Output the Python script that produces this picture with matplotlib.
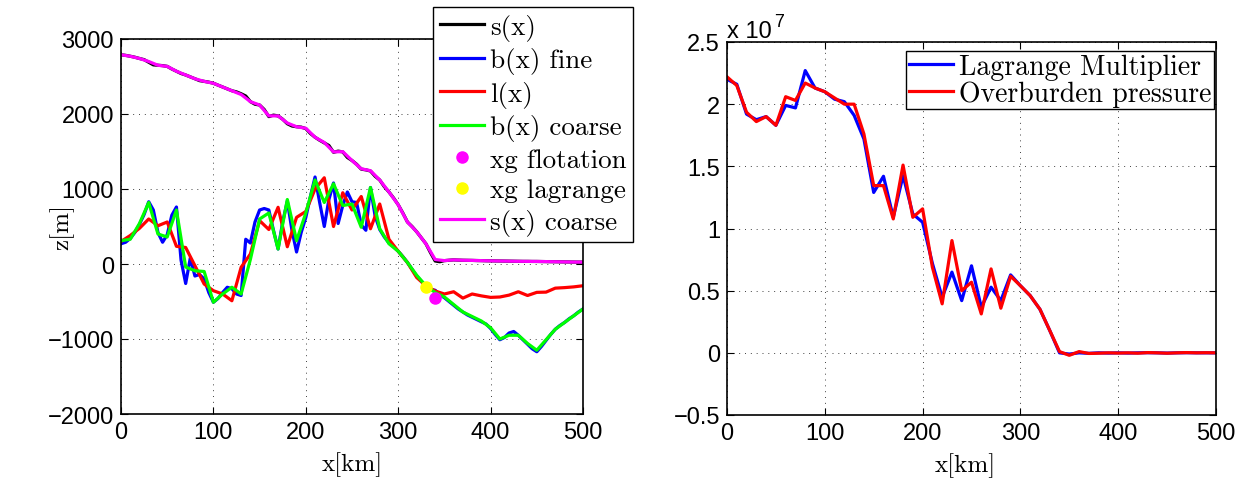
import numpy as np
import matplotlib
matplotlib.use("Agg")
import matplotlib.pyplot as plt

plt.rcParams['font.family'] = ['Liberation Sans', 'DejaVu Sans']
plt.rcParams['axes.unicode_minus'] = True

# ---------------- data: left panel (km, m) ----------------
x_fine = np.arange(0, 501, 5)
x_coarse = np.arange(0, 501, 10)

s_fine = [2790, 2782, 2770, 2757, 2740, 2725, 2690, 2655, 2650, 2645,
          2635, 2600, 2570, 2540, 2520, 2495, 2470, 2445, 2435, 2425,
          2410, 2385, 2360, 2335, 2310, 2295, 2270, 2240, 2165, 2130,
          2120, 2060, 1965, 1985, 1975, 1930, 1870, 1840, 1830, 1825,
          1805, 1740, 1690, 1650, 1615, 1580, 1490, 1505, 1495, 1420,
          1380, 1330, 1265, 1255, 1240, 1170, 1120, 1030, 960, 880,
          790, 680, 560, 500, 430, 350, 270, 150, 40, 30,
          45, 50, 55, 52, 50, 49, 48, 46, 45, 43,
          42, 41, 40, 39, 38, 37, 36, 35, 35, 34,
          34, 33, 32, 31, 30, 29, 28, 27, 26, 25, 25]

b_fine = [270, 290, 340, 420, 530, 660, 830, 720, 420, 290,
          390, 650, 760, 50, -260, 80, -160, -140, -200, -380,
          -510, -460, -380, -310, -330, -400, -420, 330, 280, 560,
          720, 740, 720, 450, 200, 560, 840, 450, 160, 420,
          620, 900, 1160, 820, 500, 860, 1080, 540, 780, 960,
          830, 820, 520, 450, 1020, 640, 460, 360, 280, 230,
          170, 100, 20, -70, -160, -230, -300, -340, -350, -410,
          -450, -500, -550, -600, -640, -680, -710, -740, -770, -800,
          -860, -940, -1010, -980, -920, -900, -950, -1010, -1070, -1130,
          -1170, -1100, -1020, -940, -870, -820, -780, -730, -690, -640, -600]

l_coarse = [300, 380, 476, 600, 510, 560, 236, 220, -22, -267,
            -356, -400, -490, -44, 133, 578, 460, 756, 230, 622,
            700, 1000, 1150, 500, 950, 720, 900, 470, 800, 330,
            170, 20, -180, -290, -360, -400, -370, -455, -400, -425,
            -445, -440, -415, -370, -420, -378, -375, -322, -315, -305,
            -290]

b_coarse = [311, 330, 540, 820, 400, 360, 720, -40, -90, -100,
            -510, -400, -310, -400, 60, 600, 680, 200, 860, 310,
            680, 1120, 820, 1070, 780, 800, 490, 1020, 470, 270,
            170, 20, -150, -290, -380, -440, -540, -640, -700, -760,
            -850, -1000, -950, -950, -1060, -1150, -1010, -870, -780, -690,
            -600]

s_coarse = [2790, 2770, 2740, 2700, 2650, 2635, 2570, 2520, 2470, 2435,
            2410, 2360, 2310, 2260, 2165, 2120, 1975, 1975, 1880, 1830,
            1810, 1690, 1620, 1495, 1498, 1380, 1270, 1244, 1120, 960,
            790, 560, 430, 270, 60, 45, 55, 50, 48, 45,
            42, 40, 38, 36, 35, 34, 32, 30, 28, 26, 25]

xg_flotation = (340, -455)
xg_lagrange = (330, -300)

# ---------------- data: right panel (x 1e7) ----------------
x_p = np.arange(0, 501, 10)
lagrange = [2.20, 2.16, 1.92, 1.875, 1.90, 1.83, 1.99, 1.97, 2.27, 2.13,
            2.10, 2.04, 2.02, 1.91, 1.72, 1.29, 1.42, 1.09, 1.425, 1.117,
            1.05, 0.72, 0.447, 0.649, 0.42, 0.70, 0.367, 0.528, 0.42, 0.627,
            0.54, 0.46, 0.35, 0.18, 0.0, -0.01, 0.0, -0.004, 0.0, -0.002,
            0.0, -0.002, 0.0, 0.001, 0.0, -0.002, 0.0, 0.001, 0.0, 0.0, 0.0]
overburden = [2.22, 2.15, 1.935, 1.86, 1.90, 1.83, 2.06, 2.03, 2.17, 2.13,
              2.10, 2.05, 2.00, 2.00, 1.76, 1.345, 1.345, 1.077, 1.51, 1.09,
              1.158, 0.689, 0.394, 0.903, 0.50, 0.568, 0.313, 0.675, 0.359, 0.616,
              0.54, 0.46, 0.35, 0.18, 0.01, -0.02, 0.01, -0.005, -0.003, 0.0,
              -0.002, 0.0, -0.003, 0.002, 0.0, -0.003, 0.0, 0.002, 0.0, 0.001, 0.0]
SCALE = 1e7

W, H = 1252, 481
fig = plt.figure(figsize=(W / 100, H / 100), dpi=100)
ax1 = fig.add_axes([121 / W, 66 / H, 462 / W, 375 / H])
ax2 = fig.add_axes([727 / W, 65 / H, 489 / W, 373 / H])

lw = 2.3
serif = 'cmr10'
grid_kw = dict(linestyle=(0, (1, 5)), color='k', linewidth=0.7, alpha=0.75)

ax1.plot(x_fine, s_fine, color='k', lw=lw, label='s(x)')
ax1.plot(x_fine, b_fine, color='#0000FF', lw=lw, label='b(x) fine')
ax1.plot(x_coarse, l_coarse, color='#FF0000', lw=lw, label='l(x)')
ax1.plot(x_coarse, b_coarse, color='#00FF00', lw=lw, label='b(x) coarse')
ax1.plot([xg_flotation[0]], [xg_flotation[1]], 'o', color='#FF00FF',
         markersize=8, linestyle='none', label='xg flotation')
ax1.plot([xg_lagrange[0]], [xg_lagrange[1]], 'o', color='#FFFF00',
         markersize=8, linestyle='none', label='xg lagrange')
ax1.plot(x_coarse, s_coarse, color='#FF00FF', lw=lw, label='s(x) coarse')

ax1.set_xlim(0, 500)
ax1.set_ylim(-2000, 3000)
ax1.set_xticks(np.arange(0, 501, 100))
ax1.set_yticks(np.arange(-2000, 3001, 1000))
ax1.set_xlabel('x[km]', fontfamily=serif, fontsize=18)
ax1.set_ylabel('z[m]', fontfamily=serif, fontsize=18)
ax1.xaxis.set_label_coords(0.5, -50 / 375)
ax1.xaxis.label.set_va('center')
ax1.yaxis.set_label_coords(-59 / 462, 0.5)
ax1.yaxis.label.set_va('center')

leg = ax1.legend(loc='upper left', bbox_to_anchor=(433 / W, 1 - 8 / H),
                 bbox_transform=fig.transFigure, borderaxespad=0,
                 prop={'family': serif, 'size': 19.5}, fancybox=False,
                 edgecolor='k', framealpha=1, handlelength=1.65,
                 handletextpad=0.2, labelspacing=0.24, borderpad=0.25)
leg.get_frame().set_linewidth(1.0)
leg.set_zorder(10)

ax2.plot(x_p, np.array(lagrange) * SCALE, color='#0000FF', lw=lw,
         label='Lagrange Multiplier')
ax2.plot(x_p, np.array(overburden) * SCALE, color='#FF0000', lw=lw,
         label='Overburden pressure')
ax2.set_xlim(0, 500)
ax2.set_ylim(-0.5 * SCALE, 2.5 * SCALE)
ax2.set_xticks(np.arange(0, 501, 100))
ax2.set_yticks(np.arange(-0.5, 2.51, 0.5) * SCALE)
ax2.yaxis.set_major_formatter(
    matplotlib.ticker.FuncFormatter(lambda v, p: ('%g' % (v / SCALE)).replace('-', '\u2212')))
ax2.set_xlabel('x[km]', fontfamily=serif, fontsize=18)
ax2.xaxis.set_label_coords(0.487, -50 / 373)
ax2.xaxis.label.set_va('center')
leg2 = ax2.legend(loc='upper right', bbox_to_anchor=(1214 / W, 1 - 52 / H),
                  bbox_transform=fig.transFigure, borderaxespad=0,
                  prop={'family': serif, 'size': 20}, fancybox=False,
                  edgecolor='k', framealpha=1, handlelength=1.6,
                  handletextpad=0.2, labelspacing=0.0, borderpad=0.1)
leg2.get_frame().set_linewidth(1.0)

fig.text(727 / W, 1 - 38 / H, 'x 10', fontsize=17, ha='left', va='baseline')
fig.text(774 / W, 1 - 27 / H, '7', fontsize=13, ha='left', va='baseline')

for ax in (ax1, ax2):
    ax.grid(True, **grid_kw)
    ax.tick_params(direction='in', top=True, right=True, length=5,
                   width=0.8, labelsize=17, pad=5)
    for sp in ax.spines.values():
        sp.set_linewidth(1.2)

fig.savefig('out.png', dpi=100)
